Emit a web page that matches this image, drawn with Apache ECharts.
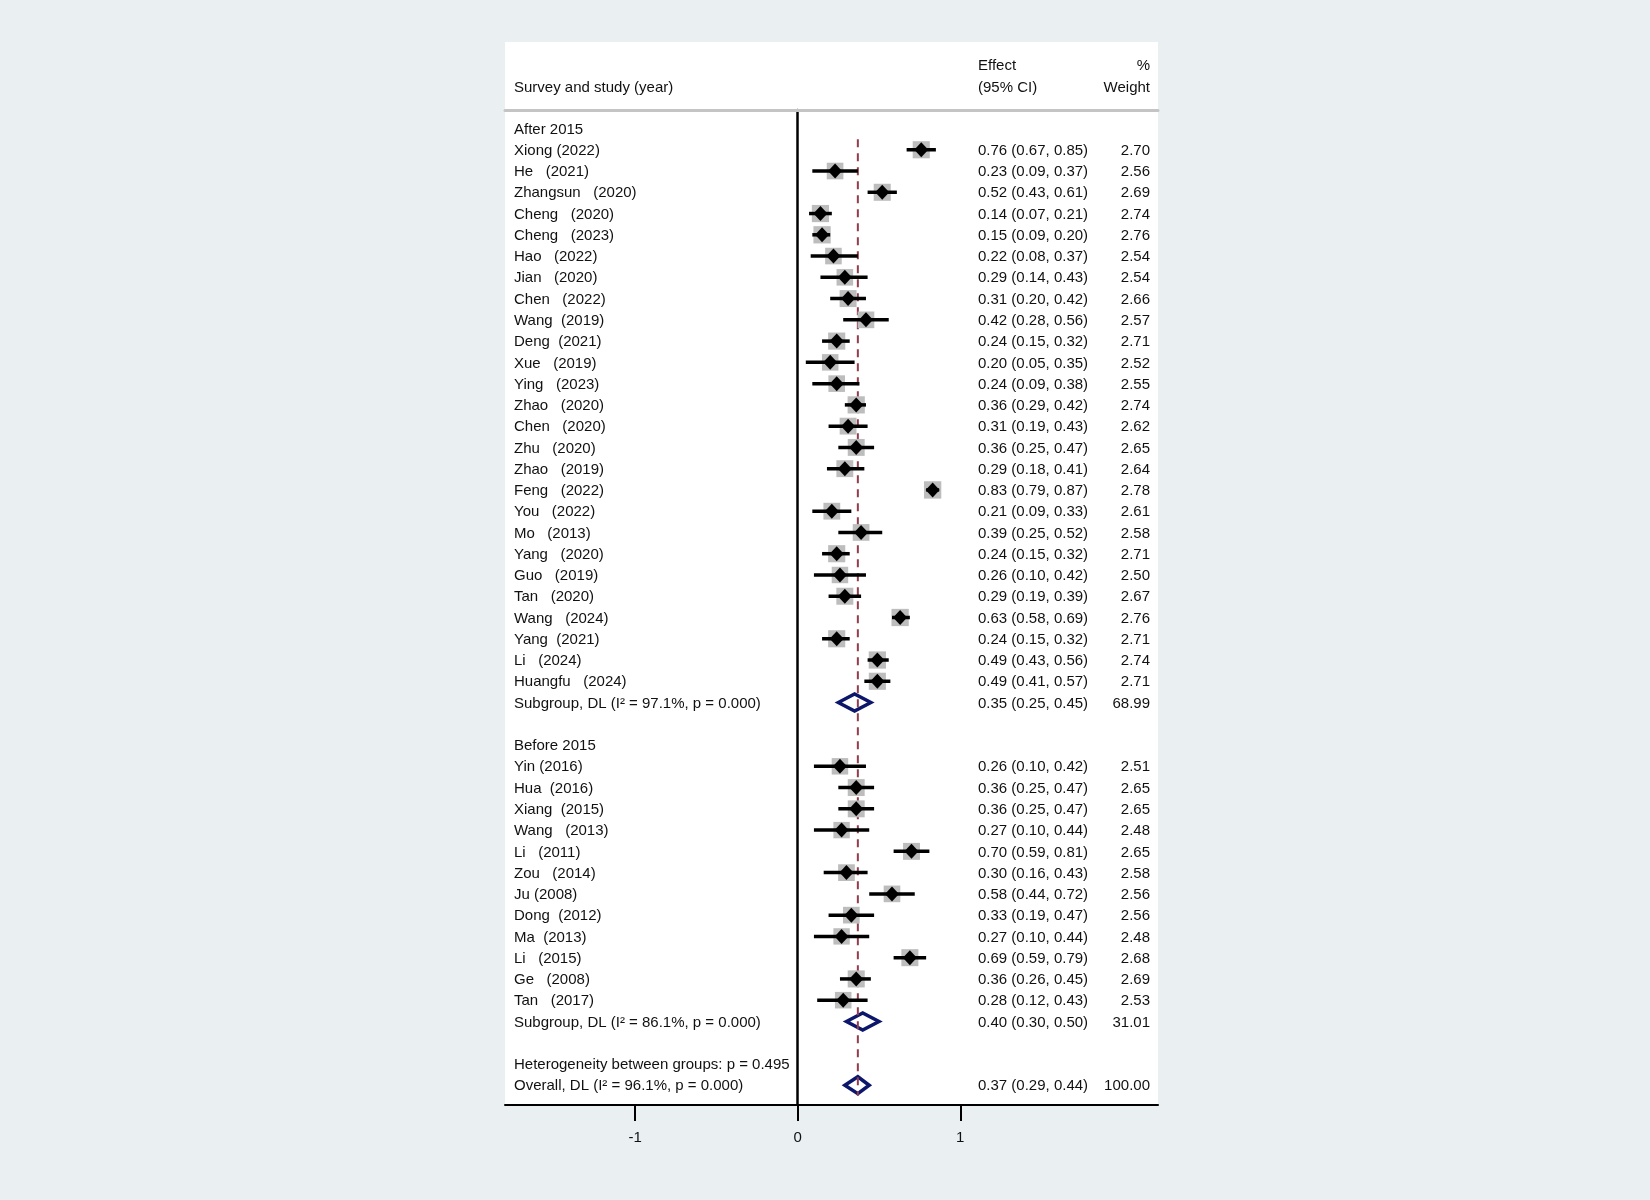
<!DOCTYPE html>
<html>
<head>
<meta charset="utf-8">
<title>Forest plot</title>
<script src="https://cdn.jsdelivr.net/npm/echarts@6/dist/echarts.min.js"></script>
<style>
html, body { margin: 0; padding: 0; background: #eaf0f2; }
#chart { width: 1650px; height: 1200px; }
</style>
</head>
<body>
<div id="chart"></div>
<script>
// --- data ---
var afterNames = ['Xiong (2022)', 'He   (2021)', 'Zhangsun   (2020)', 'Cheng   (2020)', 'Cheng   (2023)',
    'Hao   (2022)', 'Jian   (2020)', 'Chen   (2022)', 'Wang  (2019)', 'Deng  (2021)', 'Xue   (2019)',
    'Ying   (2023)', 'Zhao   (2020)', 'Chen   (2020)', 'Zhu   (2020)', 'Zhao   (2019)', 'Feng   (2022)',
    'You   (2022)', 'Mo   (2013)', 'Yang   (2020)', 'Guo   (2019)', 'Tan   (2020)', 'Wang   (2024)',
    'Yang  (2021)', 'Li   (2024)', 'Huangfu   (2024)'];
var afterEst = [0.76, 0.23, 0.52, 0.14, 0.15, 0.22, 0.29, 0.31, 0.42, 0.24, 0.20, 0.24, 0.36,
    0.31, 0.36, 0.29, 0.83, 0.21, 0.39, 0.24, 0.26, 0.29, 0.63, 0.24, 0.49, 0.49];
var afterLow = [0.67, 0.09, 0.43, 0.07, 0.09, 0.08, 0.14, 0.20, 0.28, 0.15, 0.05, 0.09, 0.29,
    0.19, 0.25, 0.18, 0.79, 0.09, 0.25, 0.15, 0.10, 0.19, 0.58, 0.15, 0.43, 0.41];
var afterHigh = [0.85, 0.37, 0.61, 0.21, 0.20, 0.37, 0.43, 0.42, 0.56, 0.32, 0.35, 0.38, 0.42,
    0.43, 0.47, 0.41, 0.87, 0.33, 0.52, 0.32, 0.42, 0.39, 0.69, 0.32, 0.56, 0.57];
var afterWeight = [2.70, 2.56, 2.69, 2.74, 2.76, 2.54, 2.54, 2.66, 2.57, 2.71, 2.52, 2.55, 2.74,
    2.62, 2.65, 2.64, 2.78, 2.61, 2.58, 2.71, 2.50, 2.67, 2.76, 2.71, 2.74, 2.71];

var beforeNames = ['Yin (2016)', 'Hua  (2016)', 'Xiang  (2015)', 'Wang   (2013)', 'Li   (2011)',
    'Zou   (2014)', 'Ju (2008)', 'Dong  (2012)', 'Ma  (2013)', 'Li   (2015)', 'Ge   (2008)', 'Tan   (2017)'];
var beforeEst = [0.26, 0.36, 0.36, 0.27, 0.70, 0.30, 0.58, 0.33, 0.27, 0.69, 0.36, 0.28];
var beforeLow = [0.10, 0.25, 0.25, 0.10, 0.59, 0.16, 0.44, 0.19, 0.10, 0.59, 0.26, 0.12];
var beforeHigh = [0.42, 0.47, 0.47, 0.44, 0.81, 0.43, 0.72, 0.47, 0.44, 0.79, 0.45, 0.43];
var beforeWeight = [2.51, 2.65, 2.65, 2.48, 2.65, 2.58, 2.56, 2.56, 2.48, 2.68, 2.69, 2.53];

var poolLabels = ['Subgroup, DL (I\u00b2 = 97.1%, p = 0.000)', 'Subgroup, DL (I\u00b2 = 86.1%, p = 0.000)',
    'Overall, DL (I\u00b2 = 96.1%, p = 0.000)'];
var poolEst = [0.35, 0.40, 0.37];
var poolLow = [0.25, 0.30, 0.29];
var poolHigh = [0.45, 0.50, 0.44];
var poolWeight = [68.99, 31.01, 100.00];

var groupTitles = ['After 2015', 'Before 2015', 'Heterogeneity between groups: p = 0.495'];
var xTicks = [-1, 0, 1];

// --- row layout (top to bottom) ---
var afterStart = 1;
var afterPool = afterStart + afterNames.length;      // 27
var beforeTitle = afterPool + 2;                     // 29
var beforeStart = beforeTitle + 1;                   // 30
var beforePool = beforeStart + beforeNames.length;   // 42
var hetRow = beforePool + 2;                         // 44
var overallRow = hetRow + 1;                         // 45

var studyNames = afterNames.concat(beforeNames);
var studyData = [];
for (var i = 0; i < afterNames.length; i++) {
    studyData.push([afterEst[i], afterStart + i, afterLow[i], afterHigh[i], afterWeight[i]]);
}
for (var j = 0; j < beforeNames.length; j++) {
    studyData.push([beforeEst[j], beforeStart + j, beforeLow[j], beforeHigh[j], beforeWeight[j]]);
}
var poolRows = [afterPool, beforePool, overallRow];
var poolData = [];
for (var k = 0; k < poolEst.length; k++) {
    poolData.push([poolEst[k], poolRows[k], poolLow[k], poolHigh[k], poolWeight[k]]);
}
var titleData = [[0, 0], [0, beforeTitle], [0, hetRow]];

var FONT = '15px "Liberation Sans", Arial, Helvetica, sans-serif';
var INK = '#111';
var TEXT_DY = 1;

function ciText(e, l, h) {
    return e.toFixed(2) + ' (' + l.toFixed(2) + ', ' + h.toFixed(2) + ')';
}

function textEl(str, x, y, align) {
    return {
        type: 'text',
        style: { text: str, x: x, y: y + TEXT_DY, font: FONT, fill: INK, align: align || 'left', verticalAlign: 'middle' }
    };
}

function renderStudy(params, api) {
    var est = api.value(0), row = api.value(1), lo = api.value(2), hi = api.value(3), w = api.value(4);
    var c = api.coord([est, row]);
    var pl = api.coord([lo, row]);
    var ph = api.coord([hi, row]);
    var cs = params.coordSys;
    var s = 10.4 * Math.sqrt(w);
    return {
        type: 'group',
        children: [
            { type: 'rect', shape: { x: c[0] - s / 2, y: c[1] - s / 2, width: s, height: s }, style: { fill: '#bdbdbd' } },
            { type: 'line', shape: { x1: pl[0], y1: c[1], x2: ph[0], y2: c[1] }, style: { stroke: '#000', lineWidth: 3.5 } },
            { type: 'polygon', shape: { points: [[c[0] - 7, c[1]], [c[0], c[1] - 7.5], [c[0] + 7, c[1]], [c[0], c[1] + 7.5]] }, style: { fill: '#000' } },
            textEl(studyNames[params.dataIndex], cs.x + 9, c[1]),
            textEl(ciText(est, lo, hi), cs.x + 473, c[1]),
            textEl(w.toFixed(2), cs.x + cs.width - 8, c[1], 'right')
        ]
    };
}

function renderPool(params, api) {
    var est = api.value(0), row = api.value(1), lo = api.value(2), hi = api.value(3), w = api.value(4);
    var c = api.coord([est, row]);
    var pl = api.coord([lo, row]);
    var ph = api.coord([hi, row]);
    var cs = params.coordSys;
    return {
        type: 'group',
        children: [
            { type: 'polygon', shape: { points: [[pl[0], c[1]], [c[0], c[1] - 8.5], [ph[0], c[1]], [c[0], c[1] + 8.5]] },
              style: { fill: '#fff', stroke: '#0c176c', lineWidth: 3.5, lineJoin: 'miter' } },
            textEl(poolLabels[params.dataIndex], cs.x + 9, c[1]),
            textEl(ciText(est, lo, hi), cs.x + 473, c[1]),
            textEl(w.toFixed(2), cs.x + cs.width - 8, c[1], 'right')
        ]
    };
}

function renderTitle(params, api) {
    var c = api.coord([0, api.value(1)]);
    return textEl(groupTitles[params.dataIndex], params.coordSys.x + 9, c[1]);
}

var chart = echarts.init(document.getElementById('chart'));

var option = {
    backgroundColor: '#eaf0f2',
    animation: false,
    textStyle: { fontFamily: '"Liberation Sans", Arial, Helvetica, sans-serif' },
    graphic: [
        { type: 'rect', z: -100, shape: { x: 505, y: 42, width: 653, height: 1063 }, style: { fill: '#fff' } },
        { type: 'text', x: 514, y: 88, style: { text: 'Survey and study (year)', font: FONT, fill: INK, verticalAlign: 'middle' } },
        { type: 'text', x: 978, y: 66, style: { text: 'Effect', font: FONT, fill: INK, verticalAlign: 'middle' } },
        { type: 'text', x: 978, y: 88, style: { text: '(95% CI)', font: FONT, fill: INK, verticalAlign: 'middle' } },
        { type: 'text', x: 1150, y: 66, style: { text: '%', font: FONT, fill: INK, align: 'right', verticalAlign: 'middle' } },
        { type: 'text', x: 1150, y: 88, style: { text: 'Weight', font: FONT, fill: INK, align: 'right', verticalAlign: 'middle' } }
    ],
    grid: { left: 505, top: 110, width: 653, height: 995 },
    xAxis: [
        {
            type: 'value',
            position: 'bottom',
            min: -1.8,
            max: 2.216,
            axisLine: { show: true, onZero: false, lineStyle: { color: '#000', width: 2 } },
            axisTick: { show: true, customValues: xTicks, length: 16, lineStyle: { color: '#000', width: 2 } },
            axisLabel: { show: true, customValues: xTicks, margin: 25, color: INK, fontSize: 15 },
            splitLine: { show: false }
        },
        {
            type: 'value',
            position: 'top',
            min: -1.8,
            max: 2.216,
            axisLine: { show: true, onZero: false, lineStyle: { color: '#c4c4c4', width: 3 } },
            axisTick: { show: false },
            axisLabel: { show: false },
            splitLine: { show: false }
        }
    ],
    yAxis: {
        type: 'value',
        inverse: true,
        min: -0.87,
        max: 45.93,
        axisLine: { show: true, onZero: true, lineStyle: { color: '#000', width: 2.5 } },
        axisTick: { show: false },
        axisLabel: { show: false },
        splitLine: { show: false }
    },
    series: [
        {
            name: 'pooled',
            type: 'custom',
            z: 2,
            renderItem: renderPool,
            encode: { x: 0, y: 1 },
            data: poolData
        },
        {
            name: 'overall line',
            type: 'line',
            z: 3,
            symbol: 'none',
            silent: true,
            data: [[poolEst[2], 0.5], [poolEst[2], overallRow + 0.5]],
            lineStyle: { color: '#923c4c', width: 2, type: [8, 6] }
        },
        {
            name: 'studies',
            type: 'custom',
            z: 4,
            renderItem: renderStudy,
            encode: { x: 0, y: 1 },
            data: studyData
        },
        {
            name: 'titles',
            type: 'custom',
            z: 4,
            renderItem: renderTitle,
            encode: { x: 0, y: 1 },
            data: titleData
        }
    ]
};

chart.setOption(option);
</script>
</body>
</html>
